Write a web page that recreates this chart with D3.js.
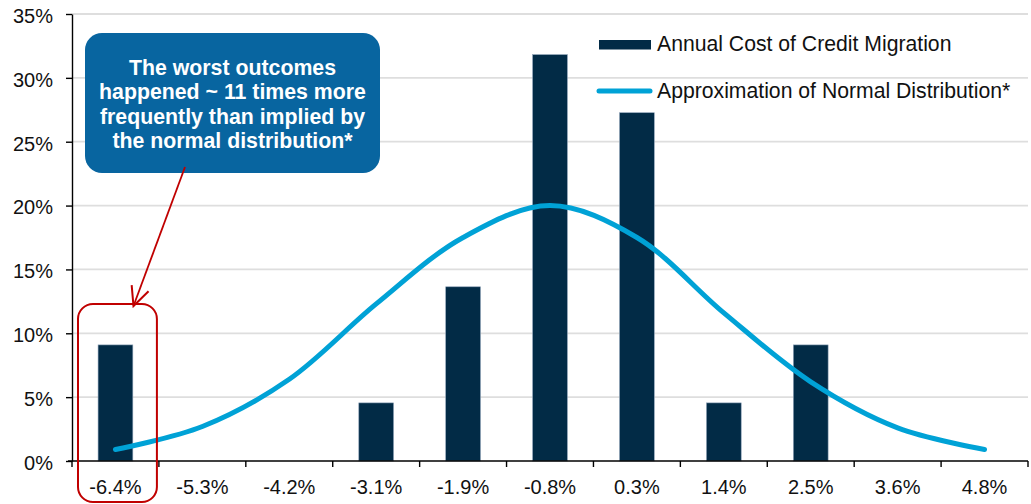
<!DOCTYPE html>
<html>
<head>
<meta charset="utf-8">
<script src="https://cdn.jsdelivr.net/npm/d3@7"></script>
<style>
  html, body { margin: 0; padding: 0; background: #fff; }
  svg { display: block; font-family: "Liberation Sans", Arial, sans-serif; }
</style>
</head>
<body>
<svg id="chart" width="1031" height="504"></svg>
<script>
// ---- Data ----
const categories = ["-6.4%", "-5.3%", "-4.2%", "-3.1%", "-1.9%", "-0.8%", "0.3%", "1.4%", "2.5%", "3.6%", "4.8%"];
const creditMigration = [9.09, 0, 0, 4.55, 13.64, 31.82, 27.27, 4.55, 9.09, 0, 0];
const normalApprox = [0.9, 2.7, 6.4, 12.3, 17.5, 20.0, 17.5, 11.6, 6.2, 2.6, 0.9];
const yTicks = [0, 5, 10, 15, 20, 25, 30, 35];
const seriesNames = ["Annual Cost of Credit Migration", "Approximation of Normal Distribution*"];
const annotationLines = ["The worst outcomes", "happened ~ 11 times more", "frequently than implied by", "the normal distribution*"];

// ---- Layout ----
const svg = d3.select("#chart");
const pLeft = 72, pRight = 1028, pTop = 14, pBottom = 461;
const barColor = "#022b46", lineColor = "#00a2d6", boxColor = "#0865a0", red = "#c00000";

const x = d3.scaleBand().domain(categories).range([pLeft, pRight]).padding(0);
const y = d3.scaleLinear().domain([0, 35]).range([pBottom, pTop]);

// gridlines
svg.append("g").selectAll("line").data(yTicks.filter(d => d > 0)).join("line")
  .attr("x1", pLeft).attr("x2", pRight)
  .attr("y1", d => y(d)).attr("y2", d => y(d))
  .attr("stroke", "#dedede").attr("stroke-width", 1.8);

// bars
const barW = x.bandwidth() * 0.4;
svg.append("g").selectAll("rect").data(categories.map((c, i) => ({c, v: creditMigration[i]})).filter(d => d.v > 0))
  .join("rect")
  .attr("x", d => x(d.c) + x.bandwidth() / 2 - barW / 2)
  .attr("width", barW)
  .attr("y", d => y(d.v))
  .attr("height", d => y(0) - y(d.v))
  .attr("fill", barColor)
  .attr("stroke", "#8fa3b8").attr("stroke-width", 0.6);

// normal line
const line = d3.line()
  .x((d, i) => x(categories[i]) + x.bandwidth() / 2)
  .y(d => y(d))
  .curve(d3.curveCatmullRom.alpha(0.5));
svg.append("path").datum(normalApprox)
  .attr("d", line)
  .attr("fill", "none").attr("stroke", lineColor).attr("stroke-width", 5)
  .attr("stroke-linecap", "round").attr("stroke-linejoin", "round");

// y axis
const yAxis = d3.axisLeft(y).tickValues(yTicks).tickFormat(d => d + "%").tickSize(6).tickSizeOuter(0).tickPadding(13);
const yg = svg.append("g").attr("transform", `translate(${pLeft},0)`).call(yAxis);
yg.selectAll("path, line").attr("stroke", "#000").attr("stroke-width", 1.4);
yg.selectAll("text").attr("font-size", "20px").attr("fill", "#111").attr("font-family", "Liberation Sans, Arial, sans-serif").attr("dy", "0.42em");

// x axis (ticks at band boundaries)
const xg = svg.append("g");
xg.append("line").attr("x1", pLeft - 4).attr("x2", pRight).attr("y1", y(0)).attr("y2", y(0))
  .attr("stroke", "#000").attr("stroke-width", 1.4);
const bounds = categories.map(c => x(c)).concat([x(categories[categories.length - 1]) + x.bandwidth()]);
xg.selectAll("line.tk").data(bounds).join("line").attr("class", "tk")
  .attr("x1", d => d).attr("x2", d => d).attr("y1", y(0)).attr("y2", y(0) + 6)
  .attr("stroke", "#000").attr("stroke-width", 1.4);
xg.selectAll("text").data(categories).join("text")
  .attr("x", d => x(d) + x.bandwidth() / 2)
  .attr("y", y(0) + 33)
  .attr("text-anchor", "middle")
  .attr("font-size", "20px").attr("fill", "#111")
  .text(d => d);

// legend
const lg = svg.append("g");
lg.append("rect").attr("x", 599).attr("y", 40).attr("width", 52).attr("height", 9.5).attr("fill", barColor);
lg.append("text").attr("x", 657).attr("y", 51).attr("font-size", "21.2px").attr("fill", "#111").text(seriesNames[0]);
lg.append("line").attr("x1", 599).attr("x2", 650).attr("y1", 91).attr("y2", 91)
  .attr("stroke", lineColor).attr("stroke-width", 5).attr("stroke-linecap", "round");
lg.append("text").attr("x", 657).attr("y", 98).attr("font-size", "21.2px").attr("fill", "#111").text(seriesNames[1]);

// annotation box
const ann = svg.append("g");
ann.append("rect").attr("x", 85).attr("y", 33).attr("width", 295).attr("height", 140)
  .attr("rx", 17).attr("ry", 17).attr("fill", boxColor);
ann.selectAll("text").data(annotationLines).join("text")
  .attr("x", 232.5).attr("y", (d, i) => 75 + i * 24.3)
  .attr("text-anchor", "middle").attr("font-weight", "bold")
  .attr("font-size", "21.3px").attr("fill", "#fff")
  .text(d => d);

// red highlight around first category
const hx = x(categories[0]);
svg.append("rect").attr("x", hx + 6).attr("y", 304).attr("width", x.bandwidth() - 8).attr("height", 198)
  .attr("rx", 15).attr("ry", 15).attr("fill", "none").attr("stroke", red).attr("stroke-width", 2);

// arrow
const defs = svg.append("defs");
defs.append("marker").attr("id", "arrow").attr("viewBox", "0 0 24 24").attr("refX", 22).attr("refY", 12)
  .attr("markerWidth", 24).attr("markerHeight", 24).attr("markerUnits", "userSpaceOnUse").attr("orient", "auto")
  .append("path").attr("d", "M3,3 L22,12 L3,21").attr("fill", "none").attr("stroke", red).attr("stroke-width", 2);
svg.append("line").attr("x1", 185).attr("y1", 167).attr("x2", 133.5).attr("y2", 306)
  .attr("stroke", red).attr("stroke-width", 1.8).attr("marker-end", "url(#arrow)");
</script>
</body>
</html>
